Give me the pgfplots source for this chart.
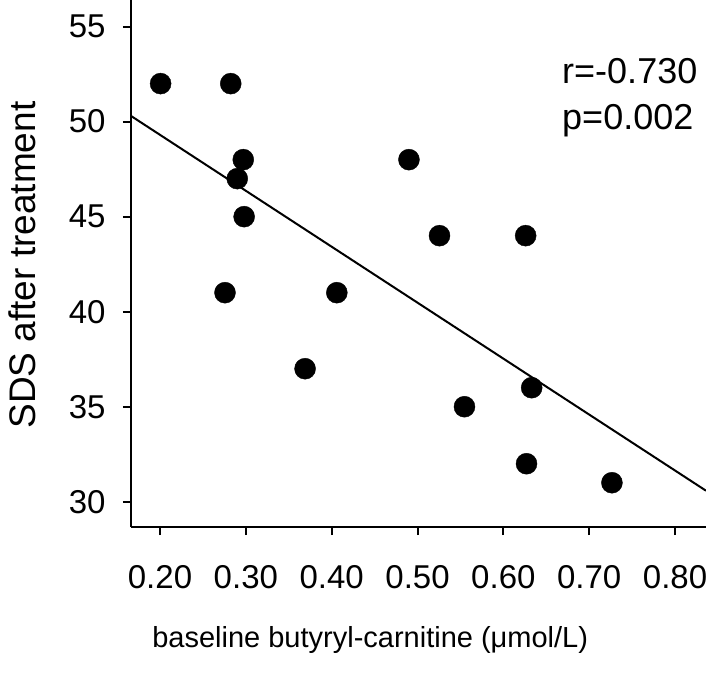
\documentclass[border=0pt]{standalone}
\usepackage{pgfplots}
\pgfplotsset{compat=1.18}
\usepackage{fontspec}
\setmainfont{Liberation Sans}
\begin{document}
\begin{tikzpicture}
\begin{axis}[
  name=ax,
  scale only axis,
  width=575pt, height=527pt,
  xmin=0.1662, xmax=0.8361,
  ymin=28.67, ymax=56.4,
  axis x line*=bottom, axis y line*=left,
  axis line style={line width=2pt, -},
  tick style={line width=2pt, black},
  tick align=outside,
  major tick length=8pt,
  xtick={0.2,0.3,0.4,0.5,0.6,0.7,0.8},
  xticklabels={0.20,0.30,0.40,0.50,0.60,0.70,0.80},
  ytick={30,35,40,45,50,55},
  /pgf/number format/assume math mode=true,
  ticklabel style={font=\fontsize{33}{40}\selectfont},
  xticklabel style={yshift=-27pt},
  yticklabel style={xshift=-14pt},
  xlabel={baseline butyryl-carnitine (μmol/L)},
  ylabel={SDS after treatment},
  xlabel style={font=\fontsize{29}{34}\selectfont, at={(rel axis cs:0.416,-0.2144)}, anchor=center},
  ylabel style={font=\fontsize{37}{42}\selectfont, at={(rel axis cs:-0.1896,0.497)}, anchor=center},
  clip=false,
]
\addplot[only marks, mark=*, mark size=10.5pt, black] coordinates {
  (0.2007,52.0) (0.2824,52.0) (0.297,48.0) (0.290,47.0) (0.298,45.0)
  (0.2757,41.0) (0.406,41.0) (0.369,37.0) (0.490,48.0) (0.5256,44.0)
  (0.626,44.0) (0.633,36.0) (0.5547,35.0) (0.627,32.0) (0.7265,31.0)
};
\addplot[black, line width=2pt] coordinates {(0.1662,50.30) (0.8361,30.58)};
\node[anchor=base west, inner sep=0pt, font=\fontsize{36}{42}\selectfont] at (rel axis cs:0.7496,0.8419) {r=-0.730};
\node[anchor=base west, inner sep=0pt, font=\fontsize{36}{42}\selectfont] at (rel axis cs:0.7496,0.7552) {p=0.002};
\end{axis}
\pgfresetboundingbox
\path ([xshift=-131pt]ax.south west) ++(0,-146pt) rectangle (ax.north east);
\end{tikzpicture}
\end{document}
